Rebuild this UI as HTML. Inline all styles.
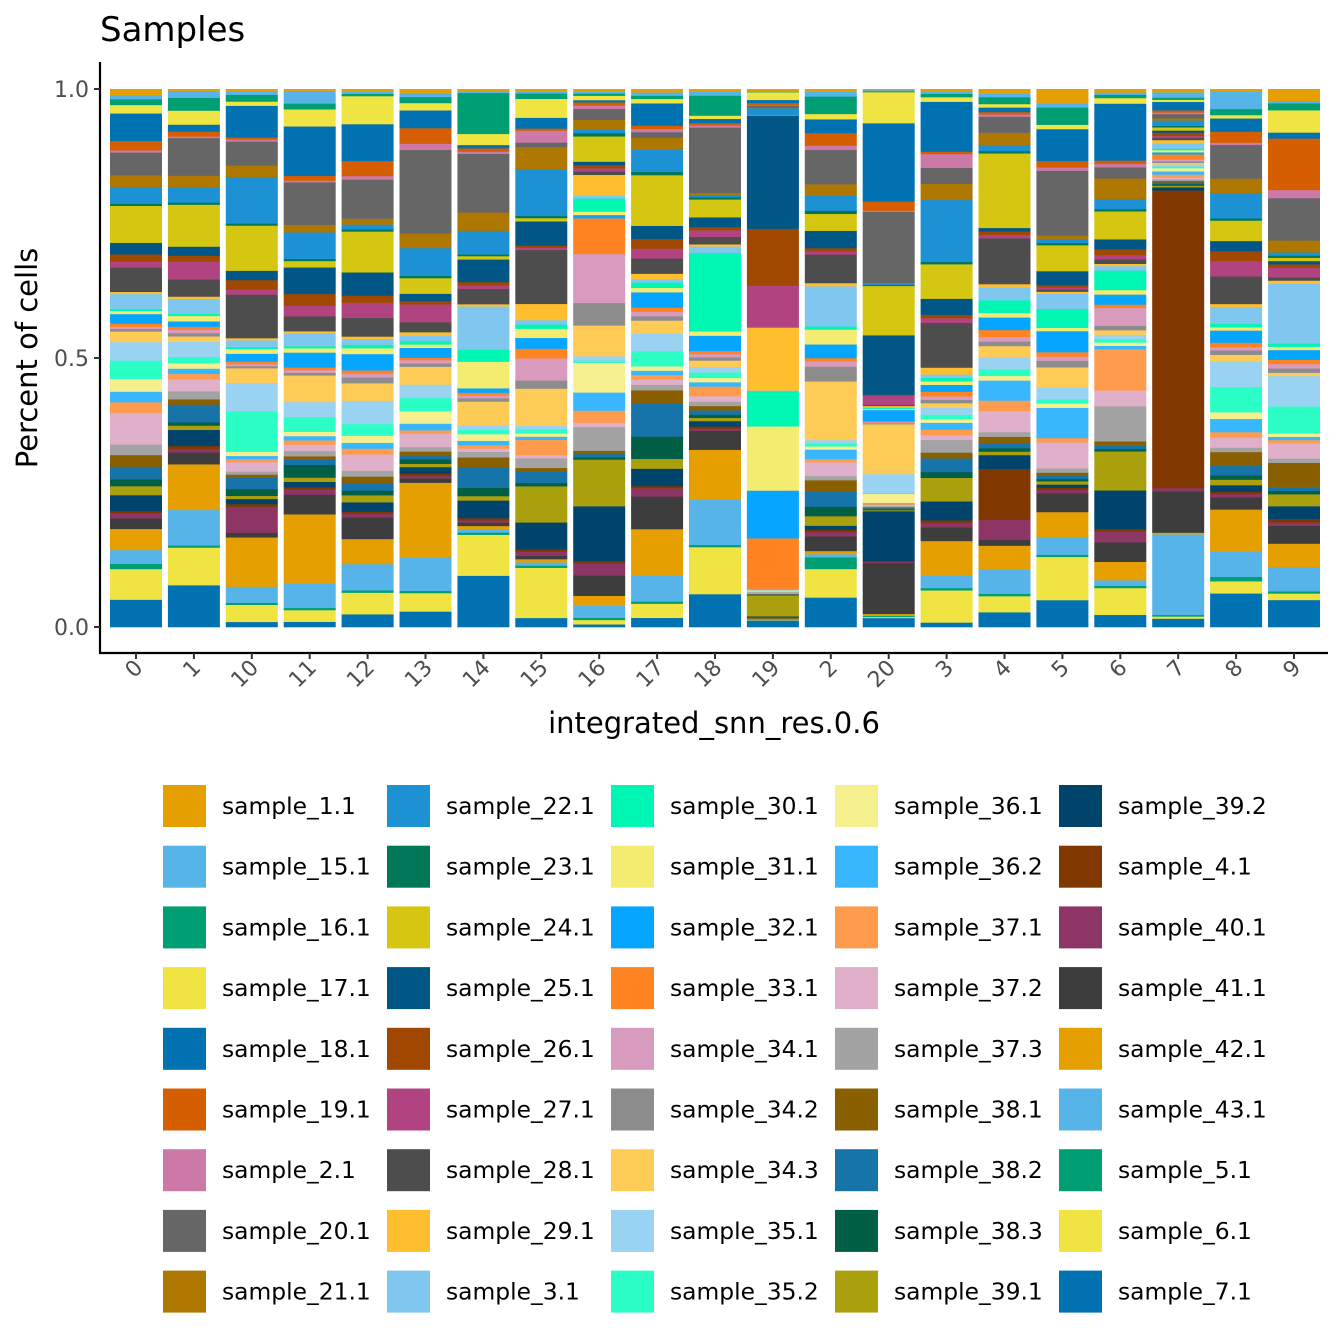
<!DOCTYPE html>
<html><head><meta charset="utf-8"><style>
body{margin:0;background:#fff}
svg{display:block;font-family:"DejaVu Sans","Liberation Sans",sans-serif}
</style></head><body>
<svg id="chart" width="1344" height="1344" viewBox="0 0 1344 1344" xmlns="http://www.w3.org/2000/svg">
<rect width="1344" height="1344" fill="#fff"/>
<text x="100" y="41" font-size="34" fill="#000">Samples</text>
<g id="bars"></g>
<g id="axes"></g>
<text transform="translate(37,358) rotate(-90)" text-anchor="middle" font-size="29" fill="#000">Percent of cells</text>
<text x="714" y="733" text-anchor="middle" font-size="29" fill="#000">integrated_snn_res.0.6</text>
<g id="legend"></g>
</svg>
<script>
const clusters = ["0","1","10","11","12","13","14","15","16","17","18","19","2","20","3","4","5","6","7","8","9"];
const samples = ["sample_1.1","sample_15.1","sample_16.1","sample_17.1","sample_18.1","sample_19.1","sample_2.1","sample_20.1","sample_21.1","sample_22.1","sample_23.1","sample_24.1","sample_25.1","sample_26.1","sample_27.1","sample_28.1","sample_29.1","sample_3.1","sample_30.1","sample_31.1","sample_32.1","sample_33.1","sample_34.1","sample_34.2","sample_34.3","sample_35.1","sample_35.2","sample_36.1","sample_36.2","sample_37.1","sample_37.2","sample_37.3","sample_38.1","sample_38.2","sample_38.3","sample_39.1","sample_39.2","sample_4.1","sample_40.1","sample_41.1","sample_42.1","sample_43.1","sample_5.1","sample_6.1","sample_7.1"];
const colors = ["#E69F00","#56B4E9","#009E73","#F0E442","#0072B2","#D55E00","#CC79A7","#666666","#AD7700","#1C91D4","#007756","#D5C711","#005685","#A04700","#B14380","#4D4D4D","#FFBE2D","#80C7EF","#00F6B3","#F4EB71","#06A5FF","#FF8320","#D99BBD","#8C8C8C","#FFCB57","#9AD2F2","#2CFFC6","#F6EF8E","#38B7FF","#FF9B4D","#E0AFCA","#A3A3A3","#8A5F00","#1674A9","#005F45","#AA9F0D","#00446B","#803800","#8D3666","#3D3D3D","#E69F00","#56B4E9","#009E73","#F0E442","#0072B2"];
const yTicks = [0, 0.5, 1.0];
const yTickLabels = ["0.0","0.5","1.0"];
// cell counts (per mille) per cluster, in sample order
const cl0 = [11,8,11,16,52,18,4,43,22,32,4,70,22,14,11,46,4,28,4,6,18,6,4,5,20,35,35,24,20,20,60,20,22,24,13,17,30,4,10,20,40,26,10,58,52];
const cl1 = [3,13,24,26,13,9,3,70,22,28,4,78,17,11,33,32,4,28,4,10,10,6,6,6,10,28,12,10,10,10,22,15,10,33,6,8,30,6,6,22,85,66,4,70,78];
const cl10 = [4,7,13,8,61,4,4,46,22,90,4,87,18,18,10,84,4,13,4,9,15,5,4,4,28,55,78,8,6,6,18,6,6,22,13,6,10,5,50,9,95,31,4,33,10];
const cl11 = [3,24,11,32,93,9,3,80,14,50,4,12,50,22,20,28,4,24,4,8,28,5,5,5,50,28,28,8,8,8,12,10,6,10,24,8,10,4,10,37,130,46,4,22,10];
const cl12 = [4,4,4,48,63,26,6,67,10,8,4,70,40,12,26,32,4,10,6,10,28,6,6,10,30,40,20,12,10,10,28,10,12,12,8,12,16,4,6,37,43,45,4,37,22];
const cl13 = [8,6,11,13,32,28,11,150,26,50,4,28,13,6,32,18,6,10,6,6,18,4,6,6,32,24,24,22,12,6,24,8,8,6,8,6,12,4,4,8,134,60,4,33,28];
const cl14 = [4,3,74,20,6,6,4,106,33,43,3,6,41,6,6,28,4,78,22,48,8,5,5,6,43,8,8,12,8,6,6,10,18,37,15,8,32,4,4,6,6,6,4,74,93];
const cl15 = [4,4,10,35,20,4,22,8,41,87,4,6,45,4,4,100,30,8,8,17,20,18,41,15,69,6,8,6,6,28,6,18,6,22,6,67,50,4,8,6,6,6,4,93,17];
const cl16 = [4,4,4,8,4,6,6,20,18,6,6,46,6,6,6,6,37,6,24,6,6,65,89,41,56,8,4,54,33,22,8,43,6,6,4,85,100,4,22,37,18,22,4,8,5];
const cl17 = [6,6,6,8,41,6,6,10,22,41,6,93,24,18,18,28,10,6,10,8,28,8,8,8,24,32,28,8,8,8,10,10,24,61,41,18,32,4,15,60,85,48,4,26,17];
const cl18 = [4,8,37,6,8,4,4,121,4,4,4,33,18,6,12,14,4,12,145,8,28,6,6,6,12,10,10,8,8,18,10,8,8,8,6,6,10,4,4,35,91,85,4,87,61];
const cl19 = [4,1,1,15,6,4,1,4,1,13,1,1,220,111,80,1,123,1,69,125,93,98,1,1,1,1,1,1,1,1,1,1,1,1,1,41,1,1,1,1,1,1,1,1,13];
const cl2 = [4,10,33,10,26,24,8,65,22,28,6,32,33,6,6,54,6,76,6,28,26,6,10,28,111,6,6,6,18,6,26,8,22,28,18,18,8,4,8,28,6,6,22,54,56];
const cl20 = [2,2,2,61,154,18,2,140,2,2,2,97,117,2,18,2,2,2,2,2,22,2,2,2,98,37,2,18,2,2,2,2,2,2,2,2,98,2,2,100,2,2,2,2,18];
const cl3 = [4,4,6,8,87,4,24,28,28,108,4,60,28,6,8,78,12,6,6,6,12,8,6,6,8,12,8,6,12,10,8,22,10,24,10,41,33,4,8,24,60,22,4,56,8];
const cl4 = [8,6,12,6,8,4,4,28,22,10,4,130,6,6,6,80,6,22,22,8,22,12,8,8,20,20,12,8,35,18,37,8,12,8,6,6,24,89,35,10,41,43,4,28,26];
const cl5 = [26,8,32,8,59,12,6,120,6,8,4,48,26,4,4,4,4,28,35,6,39,8,8,12,37,22,8,8,56,8,48,8,6,6,4,6,6,4,6,35,46,33,4,80,50];
const cl6 = [6,4,6,10,102,6,6,20,37,18,4,50,18,10,8,8,4,8,35,8,18,6,32,8,8,8,6,6,6,74,28,63,8,6,4,70,69,4,20,35,33,10,4,48,22];
const cl7 = [6,10,4,4,16,4,3,8,4,10,3,6,4,6,4,4,6,10,3,4,4,10,3,3,3,4,3,6,6,6,3,3,3,3,3,3,6,561,6,78,3,152,3,4,16];
const cl8 = [4,32,11,6,24,20,4,61,26,46,4,37,18,18,28,50,6,30,6,6,22,8,6,8,12,46,46,12,24,10,18,8,24,18,8,10,12,4,6,22,76,46,8,22,61];
const cl9 = [22,4,13,41,11,95,15,78,22,6,4,6,6,6,18,6,6,110,6,6,18,8,8,8,6,56,50,6,6,6,28,8,46,6,6,22,24,6,6,33,43,45,4,12,50];
const counts = [cl0,cl1,cl10,cl11,cl12,cl13,cl14,cl15,cl16,cl17,cl18,cl19,cl2,cl20,cl3,cl4,cl5,cl6,cl7,cl8,cl9];

const NS = "http://www.w3.org/2000/svg";
const plotL = 100, plotR = 1328, plotB = 653;
const yScale = v => 627 - 538 * v;
const xScale = i => 136 + i * ((1294 - 136) / (clusters.length - 1));
const barW = 52;
function mk(tag, attrs, parent) { const e = document.createElementNS(NS, tag); for (const k in attrs) e.setAttribute(k, attrs[k]); parent.appendChild(e); return e; }

const bars = document.getElementById('bars');
counts.forEach((row, ci) => {
  const total = row.reduce((a, b) => a + b, 0);
  let cum = 0;
  for (let si = samples.length - 1; si >= 0; si--) {
    const v = row[si] / total;
    const y1 = yScale(cum), y0 = yScale(cum + v);
    const r = mk('rect', {x: xScale(ci) - barW / 2, y: y0, width: barW, height: Math.max(0, y1 - y0 + 0.3), fill: colors[si]}, bars);
    
    
    cum += v;
  }
});

const axes = document.getElementById('axes');
const yl = mk('line', {x1: plotL, y1: 62, x2: plotL, y2: plotB, stroke: '#000', 'stroke-width': 2.2}, axes);


const xl = mk('line', {x1: plotL - 1, y1: plotB, x2: plotR, y2: plotB, stroke: '#000', 'stroke-width': 2.2}, axes);


yTicks.forEach((t, i) => {
  const y = yScale(t);
  const tk = mk('line', {x1: plotL - 6, y1: y, x2: plotL, y2: y, stroke: '#333', 'stroke-width': 2}, axes);
  
  
  const lb = mk('text', {x: plotL - 11, y: y + 8, 'text-anchor': 'end', 'font-size': 22, fill: '#4d4d4d'}, axes);
  lb.textContent = yTickLabels[i];
  
  
});
clusters.forEach((c, i) => {
  const x = xScale(i);
  const tk = mk('line', {x1: x, y1: plotB, x2: x, y2: plotB + 6, stroke: '#333', 'stroke-width': 2}, axes);
  
  
  const lb = mk('text', {transform: `translate(${x + 8},${plotB + 16}) rotate(-45)`, 'text-anchor': 'end', 'font-size': 22, fill: '#4d4d4d'}, axes);
  lb.textContent = c;
  
  
});

const legend = document.getElementById('legend');
const colX = [163, 387, 611, 835, 1059];
samples.forEach((s, i) => {
  const col = Math.floor(i / 9), row = i % 9;
  const x = colX[col], y = 785 + row * 60.7;
  const g = mk('g', {}, legend);
  
  
  const k = mk('rect', {x: x, y: y, width: 43, height: 42, fill: colors[i]}, g);
  
  
  const t = mk('text', {x: x + 59, y: y + 29, 'font-size': 23.4, fill: '#000'}, g);
  t.textContent = s;
  
  
});
</script>
</body></html>
